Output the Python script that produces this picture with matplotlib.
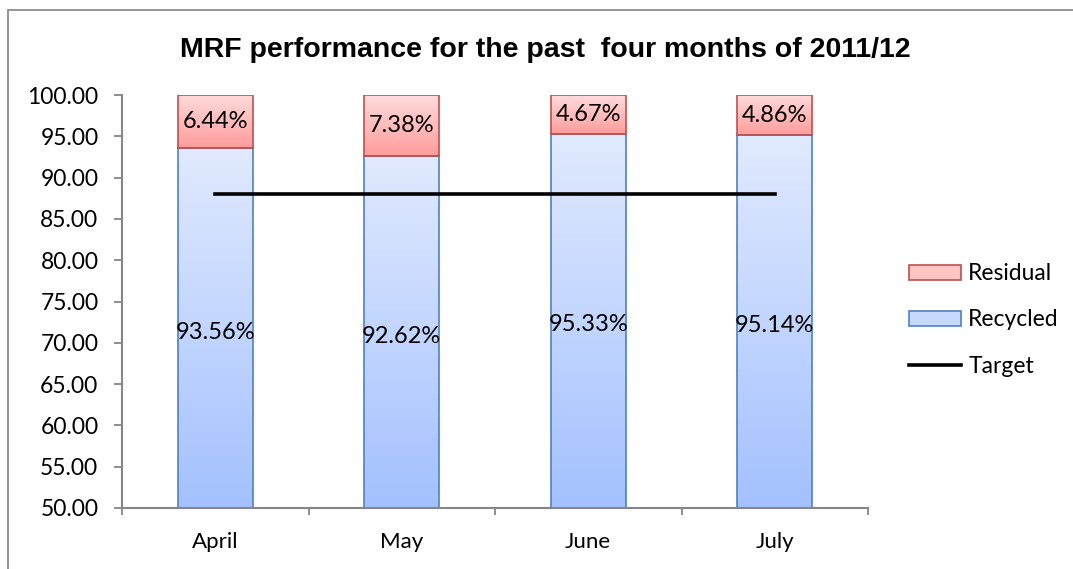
import numpy as np
import matplotlib
matplotlib.use("Agg")
import matplotlib.pyplot as plt
from matplotlib.patches import Rectangle
from matplotlib.colors import LinearSegmentedColormap

# data
months = ["April", "May", "June", "July"]
recycled = [93.56, 92.62, 95.33, 95.14]
residual = [6.44, 7.38, 4.67, 4.86]
target = [88, 88, 88, 88]

plt.rcParams['font.family'] = ['Lato', 'DejaVu Sans']

fig = plt.figure(figsize=(10.73, 5.69), dpi=100)
ax = fig.add_axes([122 / 1073, 1 - 508 / 569, (868 - 122) / 1073, (508 - 95) / 569])

# outer chart frame (Excel style)
fig.patches.append(Rectangle((8 / 1073, -0.1), 1.2, 1.1 - 10 / 569, transform=fig.transFigure,
                             fill=False, edgecolor='#8c8c8c', lw=1.3))

x = np.arange(len(months))
w = 0.40
ymin, ymax = 50, 100

cm_blue = LinearSegmentedColormap.from_list('b', ['#a3c1fe', '#e1eaff'])
cm_red = LinearSegmentedColormap.from_list('r', ['#ff9c9c', '#ffdcdc'])


def gradient_bars(bars, cmap):
    for b in bars:
        x0, y0 = b.get_x(), max(b.get_y(), ymin)
        x1, y1 = x0 + b.get_width(), b.get_y() + b.get_height()
        grad = np.linspace(0, 1, 256).reshape(-1, 1)
        im = ax.imshow(grad, cmap=cmap, origin='lower', aspect='auto',
                       extent=(x0, x1, y0, y1), zorder=1)
        im.set_clip_path(b)


b1 = ax.bar(x, recycled, w, facecolor='none', edgecolor='#4f81bd', lw=1.2,
            label='Recycled', zorder=2)
b2 = ax.bar(x, residual, w, bottom=recycled, facecolor='none', edgecolor='#c0504d',
            lw=1.2, label='Residual', zorder=2)
gradient_bars(b1, cm_blue)
gradient_bars(b2, cm_red)

ax.plot(x, target, color='black', lw=2.6, label='Target', zorder=4)

for i in range(len(months)):
    ax.text(x[i], (ymin + recycled[i]) / 2 - 0.5, f"{recycled[i]:.2f}%", ha='center',
            va='center', fontsize=17, zorder=5)
    ax.text(x[i], recycled[i] + residual[i] / 2, f"{residual[i]:.2f}%", ha='center',
            va='center', fontsize=17, zorder=5)

ax.set_xlim(-0.5, len(months) - 0.5)
ax.set_ylim(ymin, ymax)
ax.set_yticks(np.arange(50, 101, 5))
ax.set_yticklabels([f"{v:.2f}" for v in np.arange(50, 101, 5)], fontsize=16.5)
ax.set_xticks(x)
ax.set_xticklabels(months, fontsize=16)
ax.set_xticks(np.arange(-0.5, len(months)), minor=True)
ax.tick_params(axis='x', which='major', length=0, pad=17)
ax.tick_params(axis='x', which='minor', length=5, color='#868686', width=1.3)
ax.tick_params(axis='y', length=6, color='#868686', width=1.3, pad=11)

for s in ['top', 'right']:
    ax.spines[s].set_visible(False)
for s in ['left', 'bottom']:
    ax.spines[s].set_color('#868686')
    ax.spines[s].set_linewidth(1.5)
    ax.spines[s].set_zorder(3)

fig.text(0.508, 0.912, "MRF performance for the past  four months of 2011/12",
         ha='center', va='center', fontsize=20.5, fontweight='bold',
         family=['Liberation Sans Narrow', 'Liberation Sans', 'DejaVu Sans'])

# legend: Residual, Recycled, Target
handles = [Rectangle((0, 0), 1, 1, facecolor='#ffc4c4', edgecolor='#c0504d', lw=1.2),
           Rectangle((0, 0), 1, 1, facecolor='#c8d9ff', edgecolor='#4f81bd', lw=1.2),
           plt.Line2D([], [], color='black', lw=2.6)]
fig.legend(handles, ['Residual', 'Recycled', 'Target'], loc='center left',
           bbox_to_anchor=(888 / 1073, 1 - 320 / 569), frameon=False, fontsize=16.5,
           handlelength=2.3, handleheight=0.65, handletextpad=0.3, labelspacing=1.1)

fig.savefig("out.png", dpi=100)
